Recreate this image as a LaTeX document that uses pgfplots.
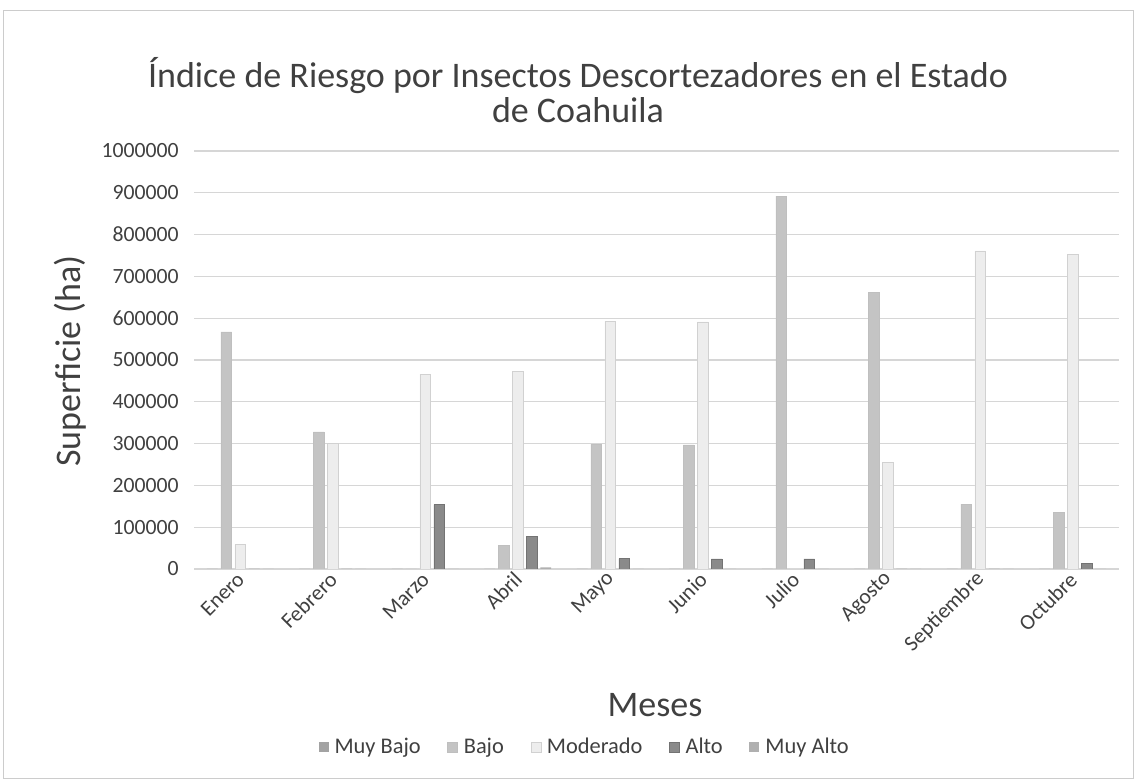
\documentclass[border=0pt]{standalone}
\usepackage{pgfplots}
\pgfplotsset{compat=1.18}
\usepackage{fontspec}
\setmainfont{Carlito}
\definecolor{cMB}{HTML}{A3A3A3}
\definecolor{cB}{HTML}{C4C4C4}
\definecolor{cM}{HTML}{EDEDED}
\definecolor{cA}{HTML}{8A8A8A}
\definecolor{cMA}{HTML}{B0B0B0}
\definecolor{txt}{HTML}{404040}
\begin{document}
\begin{tikzpicture}
\begin{scope}[x=0.75pt,y=0.75pt]
\path[use as bounding box] (0,0) rectangle (1136,781);
\draw[black!20, line width=0.6pt] (3,3) rectangle (1133,771);
\end{scope}
\begin{axis}[
  at={(145.5pt,159pt)}, anchor=south west,
  scale only axis, width=693.75pt, height=313.5pt,
  ybar, bar width=7.9pt,
  xmin=-0.5, xmax=9.5, ymin=0, ymax=1000000,
  xtick={0,1,2,3,4,5,6,7,8,9},
  xticklabels={Enero,Febrero,Marzo,Abril,Mayo,Junio,Julio,Agosto,Septiembre,Octubre},
  ytick={0,100000,200000,300000,400000,500000,600000,700000,800000,900000,1000000},
  scaled y ticks=false,
  /pgf/number format/assume math mode=true,
  yticklabel style={/pgf/number format/fixed, /pgf/number format/1000 sep={}, font=\fontsize{16.3}{19}\selectfont, text=txt, xshift=-8pt},
  xticklabel style={rotate=45, anchor=east, font=\fontsize{16.3}{19}\selectfont, text=txt, yshift=-4pt},
  ymajorgrids, grid style={color=black!16, line width=0.8pt},
  axis line style={draw=none}, major tick length=0pt,
  legend style={at={(0.4227,-0.426)}, anchor=center, draw=none, fill=none, legend columns=5,
    font=\fontsize{16.8}{19}\selectfont, text=txt,
    /tikz/every even column/.append style={column sep=18pt}},
  legend image code/.code={\fill[#1] (0pt,-3.6pt) rectangle (7.5pt,3.9pt); \path (10pt,0pt);},
]
\addplot[fill=cMB, draw=none, bar shift=-21pt] coordinates {(0,0) (1,0) (2,0) (3,0) (4,0) (5,0) (6,0) (7,0) (8,0) (9,0)};
\addplot[fill=cB, draw=black!25, line width=0.3pt, bar shift=-10.5pt] coordinates {(0,567000) (1,328000) (2,0) (3,56000) (4,299000) (5,297000) (6,892000) (7,661000) (8,155000) (9,136000)};
\addplot[fill=cM, draw=black!18, line width=0.3pt, bar shift=0pt] coordinates {(0,59000) (1,300000) (2,466000) (3,472000) (4,593000) (5,591000) (6,0) (7,255000) (8,761000) (9,753000)};
\addplot[fill=cA, draw=black!55, line width=0.3pt, bar shift=10.5pt] coordinates {(0,0) (1,0) (2,154000) (3,78000) (4,25000) (5,24000) (6,24000) (7,0) (8,0) (9,14000)};
\addplot[fill=cMA, draw=none, bar shift=21pt] coordinates {(0,0) (1,0) (2,0) (3,4000) (4,0) (5,0) (6,0) (7,0) (8,0) (9,0)};
\legend{Muy Bajo,Bajo,Moderado,Alto,Muy Alto}
\end{axis}
\begin{scope}[x=0.75pt,y=0.75pt]
\node[align=center, font=\fontsize{27}{26.5}\selectfont, text=txt] at (578,691) {Índice de Riesgo por Insectos Descortezadores en el Estado\\de Coahuila};
\node[rotate=90, font=\fontsize{27}{30}\selectfont, text=txt] at (70,420) {Superficie (ha)};
\node[font=\fontsize{27}{30}\selectfont, text=txt] at (655,76) {Meses};
\end{scope}
\end{tikzpicture}
\end{document}
